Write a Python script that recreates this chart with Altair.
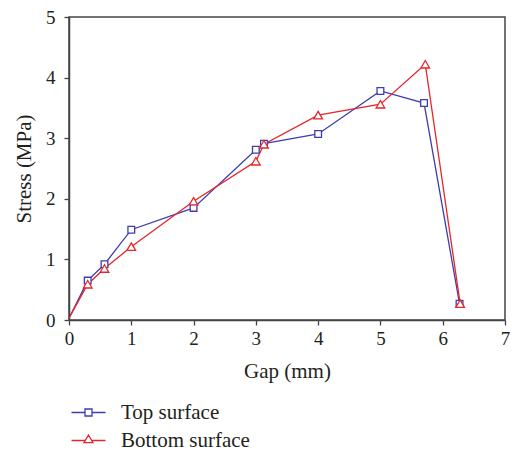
import altair as alt
import pandas as pd

series_names = ["Top surface", "Bottom surface"]
x_top = [0.0, 0.30, 0.57, 1.0, 2.0, 3.0, 3.13, 4.0, 5.0, 5.70, 6.27]
y_top = [0.03, 0.65, 0.92, 1.49, 1.85, 2.81, 2.91, 3.07, 3.78, 3.58, 0.27]
x_bot = [0.0, 0.30, 0.57, 1.0, 2.0, 3.0, 3.13, 4.0, 5.0, 5.72, 6.28]
y_bot = [0.03, 0.59, 0.85, 1.21, 1.96, 2.62, 2.90, 3.38, 3.56, 4.22, 0.27]
x_ticks = [i * 0.5 for i in range(15)]
y_ticks = [i * 0.5 for i in range(11)]
colors = ["#3d3db2", "#e5262a"]

rows = []
for i, (x, y) in enumerate(zip(x_top, y_top)):
    rows.append({"Series": series_names[0], "Gap": x, "Stress": y, "order": i})
for i, (x, y) in enumerate(zip(x_bot, y_bot)):
    rows.append({"Series": series_names[1], "Gap": x, "Stress": y, "order": i})
df = pd.DataFrame(rows)

FONT = "Liberation Serif"
TXT = "#231f20"
AX = "#444444"

top_path = "M-2.43,0H-0.5M0.5,0H2.43M-0.5,-0.5H0.5V0.5H-0.5Z"
bot_path = "M-2.43,0H-0.46M0.46,0H2.43M0,-0.78L0.64,0.3L-0.64,0.3Z"

xscale = alt.Scale(domain=[0, 7], nice=False)
yscale = alt.Scale(domain=[0, 5], nice=False)
cscale = alt.Scale(domain=series_names, range=colors)

xaxis = alt.Axis(
    values=x_ticks, format="~g", labelExpr="datum.value % 1 ? '' : datum.label",
    tickSize=alt.expr("datum.value % 1 ? 3 : 5"), grid=False, labelFlush=False,
    title="Gap (mm)", labelPadding=4, titlePadding=12,
)
yaxis = alt.Axis(
    values=y_ticks, format="~g", labelExpr="datum.value % 1 ? '' : datum.label",
    tickSize=alt.expr("datum.value % 1 ? 3 : 5"), grid=False, labelFlush=False,
    title="Stress (MPa)", labelPadding=9, titlePadding=11,
)

legend = alt.Legend(
    orient="none", legendX=9, legendY=385, title=None,
    symbolSize=196, symbolStrokeWidth=1.3, labelOffset=22, rowPadding=6,
    labelFont=FONT, labelFontSize=21, labelColor=TXT, padding=0,
    symbolType=alt.expr("datum.value === 'Top surface' ? '%s' : '%s'" % (top_path, bot_path)),
    symbolFillColor="white",
)

base = alt.Chart(df)
lines = base.mark_line(strokeWidth=1.3).encode(
    x=alt.X("Gap:Q", scale=xscale, axis=xaxis),
    y=alt.Y("Stress:Q", scale=yscale, axis=yaxis),
    color=alt.Color("Series:N", scale=cscale, legend=legend),
    detail="Series:N",
    order="order:Q",
)

def marker_layer(name, shape, size):
    return base.mark_point(shape=shape, size=size, filled=False, fill="white",
                           strokeWidth=1.3, opacity=1).encode(
        x=alt.X("Gap:Q", scale=xscale),
        y=alt.Y("Stress:Q", scale=yscale),
        color=alt.Color("Series:N", scale=cscale, legend=None),
    ).transform_filter(
        (alt.datum.Series == name) & (alt.datum.Gap > 0)
    )

pts_top = marker_layer(series_names[0], "square", 45)
pts_bot = marker_layer(series_names[1], "triangle-up", 75)

chart = alt.layer(lines, pts_top, pts_bot).properties(
    width=436, height=303,
    autosize=alt.AutoSizeParams(type="none"),
    padding={"left": 61, "top": 9, "right": 5, "bottom": 131},
).configure_view(stroke=AX, strokeWidth=1.5).configure_axis(
    domainColor=AX, domainWidth=1.5, tickColor=AX, tickWidth=1.3,
    labelFont=FONT, labelFontSize=19, labelColor=TXT,
    titleFont=FONT, titleFontSize=21, titleColor=TXT, titleFontWeight="normal",
)

chart.save("out.html", embed_options={"renderer": "svg", "actions": False})
